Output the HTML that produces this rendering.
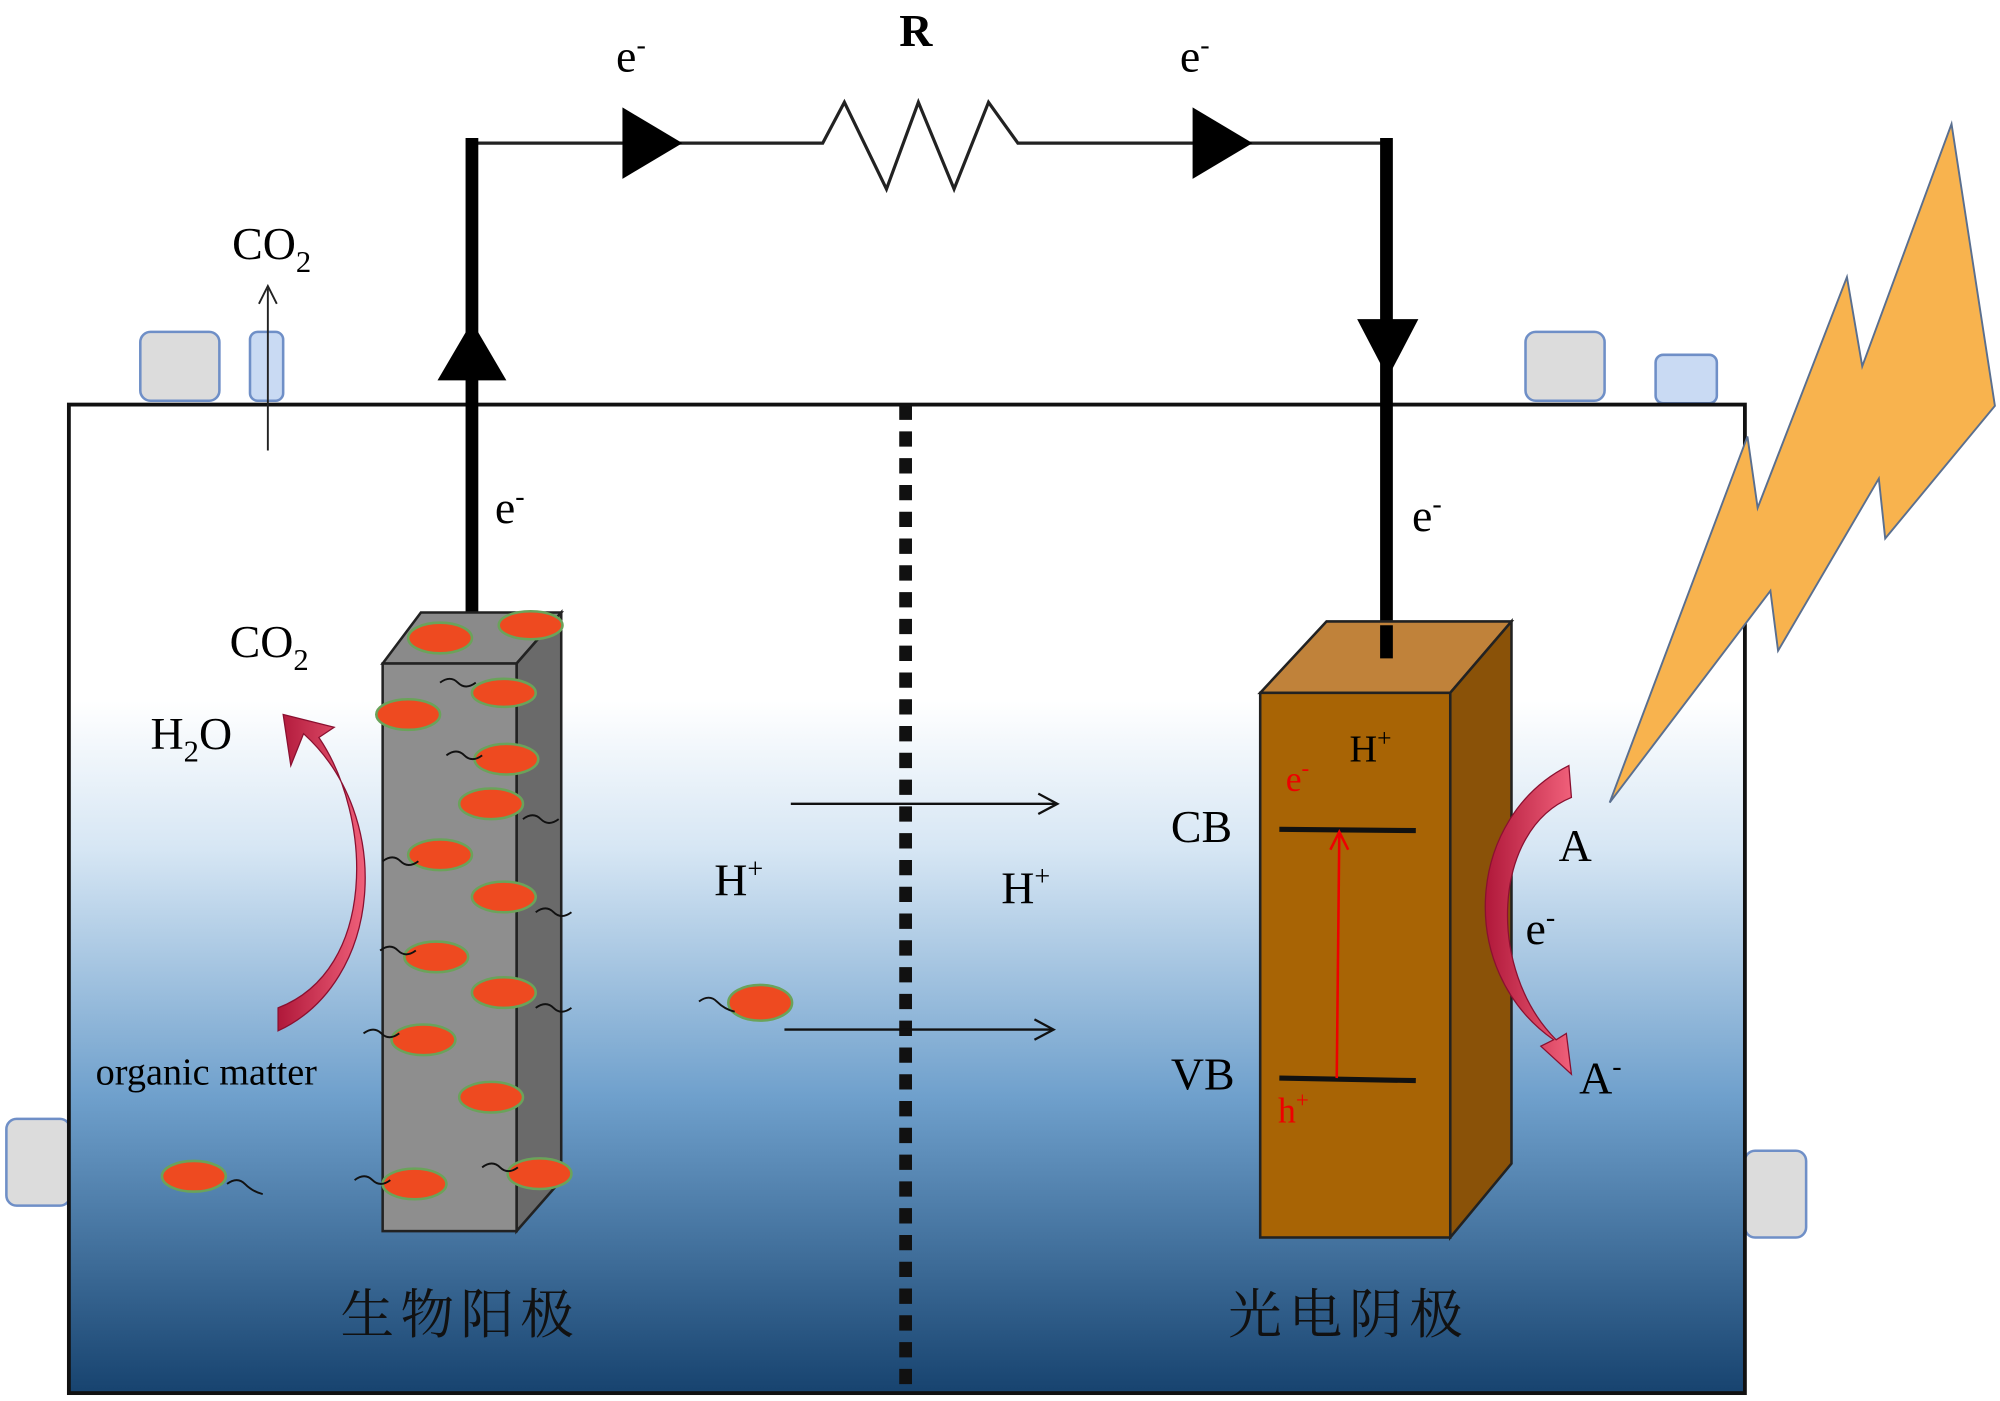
<!DOCTYPE html>
<html><head><meta charset="utf-8"><style>html,body{margin:0;padding:0;background:#fff}svg{display:block}</style></head>
<body>
<svg width="2000" height="1401" viewBox="0 0 1568 1098" xmlns="http://www.w3.org/2000/svg" font-family="Liberation Serif, Noto Serif CJK SC, serif">
<defs>
<linearGradient id="w" x1="0" y1="0" x2="0" y2="1">
<stop offset="0" stop-color="#fff"/><stop offset="0.3" stop-color="#fff"/>
<stop offset="0.45" stop-color="#d6e6f4"/><stop offset="0.7" stop-color="#6fa0cc"/>
<stop offset="1" stop-color="#17436f"/></linearGradient>
<linearGradient id="ar" x1="0" y1="0" x2="1" y2="0"><stop offset="0" stop-color="#b0183a"/><stop offset="1" stop-color="#f0607a"/></linearGradient>
</defs>
<rect width="1568" height="1098" fill="#fff"/>
<rect x="110" y="260" width="62" height="54" rx="8" fill="#dcdcdc" stroke="#6f8fc7" stroke-width="2"/>
<rect x="196" y="260" width="26" height="54" rx="6" fill="#c9daf3" stroke="#6f8fc7" stroke-width="2"/>
<rect x="1196" y="260" width="62" height="54" rx="8" fill="#dcdcdc" stroke="#6f8fc7" stroke-width="2"/>
<rect x="1298" y="278" width="48" height="38" rx="6" fill="#c9daf3" stroke="#6f8fc7" stroke-width="2"/>
<rect x="5" y="877" width="50" height="68" rx="8" fill="#dcdcdc" stroke="#6f8fc7" stroke-width="2"/>
<rect x="1368" y="902" width="48" height="68" rx="8" fill="#dcdcdc" stroke="#6f8fc7" stroke-width="2"/>
<rect x="54" y="317" width="1314" height="775" fill="url(#w)" stroke="#111" stroke-width="3"/>
<line x1="710" y1="317" x2="710" y2="1092" stroke="#111" stroke-width="10" stroke-dasharray="12,9"/>
<polygon points="1262,629 1370,342 1378,398 1448,217 1460,287 1530,97 1564,318 1478,422 1473,375 1394,510 1388,463" fill="#f8b34e" stroke="#5a6f8f" stroke-width="1.5"/>
<polyline points="370,112 645,112 662,80 695,148 720,80 748,148 775,80 798,112 1088,112" fill="none" stroke="#222" stroke-width="2.5"/>
<line x1="370" y1="108" x2="370" y2="492" stroke="#000" stroke-width="10"/>
<line x1="1087" y1="108" x2="1087" y2="516" stroke="#000" stroke-width="10"/>
<polygon points="488,84 535,112 488,140" fill="#000"/>
<polygon points="935,84 982,112 935,140" fill="#000"/>
<polygon points="343,298 370,252 397,298" fill="#000"/>
<polygon points="1064,250 1112,250 1088,296" fill="#000"/>
<line x1="210" y1="353" x2="210" y2="226" stroke="#222" stroke-width="1.5"/>
<polyline points="203,238 210,224 217,238" fill="none" stroke="#222" stroke-width="1.5"/>
<polygon points="300,520 330,480 440,480 405,520" fill="#8a8a8a" stroke="#222" stroke-width="2"/>
<polygon points="405,520 440,480 440,925 405,965" fill="#6a6a6a" stroke="#222" stroke-width="2"/>
<rect x="300" y="520" width="105" height="445" fill="#8e8e8e" stroke="#222" stroke-width="2"/>
<g fill="#ee4a20" stroke="#6aa35a" stroke-width="2">
<ellipse cx="345" cy="500" rx="25" ry="12"/><ellipse cx="416" cy="490" rx="25" ry="11"/>
<ellipse cx="395" cy="543" rx="25" ry="11"/><ellipse cx="320" cy="560" rx="25" ry="12"/>
<ellipse cx="397" cy="595" rx="25" ry="12"/><ellipse cx="385" cy="630" rx="25" ry="12"/>
<ellipse cx="345" cy="670" rx="25" ry="12"/><ellipse cx="395" cy="703" rx="25" ry="12"/>
<ellipse cx="342" cy="750" rx="25" ry="12"/><ellipse cx="395" cy="778" rx="25" ry="12"/>
<ellipse cx="332" cy="815" rx="25" ry="12"/><ellipse cx="385" cy="860" rx="25" ry="12"/>
<ellipse cx="325" cy="928" rx="25" ry="12"/><ellipse cx="423" cy="920" rx="25" ry="12"/>
<ellipse cx="152" cy="922" rx="25" ry="12"/><ellipse cx="596" cy="786" rx="25" ry="14"/>
</g>
<g fill="none" stroke="#111" stroke-width="1.5">
<path d="M345,535 q8,-6 14,0 t14,0"/><path d="M350,592 q8,-6 14,0 t14,0"/><path d="M410,642 q8,-6 14,0 t14,0"/>
<path d="M300,675 q8,-6 14,0 t14,0"/><path d="M420,715 q8,-6 14,0 t14,0"/><path d="M298,745 q8,-6 14,0 t14,0"/>
<path d="M420,790 q8,-6 14,0 t14,0"/><path d="M285,810 q8,-6 14,0 t14,0"/><path d="M278,925 q8,-6 14,0 t14,0"/>
<path d="M378,915 q8,-6 14,0 t14,0"/><path d="M178,928 q8,-6 14,0 t14,8"/><path d="M548,785 q8,-6 14,0 t14,8"/>
</g>
<polygon points="988,543 1040,487 1185,487 1137,543" fill="#c0823a" stroke="#222" stroke-width="2"/>
<polygon points="1137,543 1185,487 1185,912 1137,970" fill="#8a5208" stroke="#222" stroke-width="2"/>
<rect x="988" y="543" width="149" height="427" fill="#a86405" stroke="#222" stroke-width="2"/>
<line x1="1087" y1="490" x2="1087" y2="516" stroke="#000" stroke-width="10"/>
<line x1="1003" y1="650" x2="1110" y2="651" stroke="#111" stroke-width="4"/>
<line x1="1003" y1="845" x2="1110" y2="847" stroke="#111" stroke-width="4"/>
<line x1="1048" y1="845" x2="1050" y2="654" stroke="#e00" stroke-width="2"/>
<polyline points="1043,666 1050,652 1057,666" fill="none" stroke="#e00" stroke-width="2"/>
<path d="M218,808 C300,770 310,640 238,575 L228,600 L222,560 L262,570 L250,578 C292,640 296,760 218,790 Z" fill="url(#ar)" stroke="#8a1030" stroke-width="1"/>
<path d="M1230,600 C1150,640 1140,760 1218,815 L1208,820 L1232,842 L1228,810 L1220,815 C1165,760 1170,650 1232,625 Z" fill="url(#ar)" stroke="#8a1030" stroke-width="1"/>
<line x1="620" y1="630" x2="828" y2="630" stroke="#111" stroke-width="1.8"/><polyline points="814,622 829,630 814,638" fill="none" stroke="#111" stroke-width="1.8"/>
<line x1="615" y1="807" x2="825" y2="807" stroke="#111" stroke-width="1.8"/><polyline points="811,799 826,807 811,815" fill="none" stroke="#111" stroke-width="1.8"/>
<g font-size="36" fill="#000">
<text x="705" y="36" font-weight="bold">R</text>
<text x="483" y="56">e<tspan font-size="22" dy="-14">-</tspan></text>
<text x="925" y="56">e<tspan font-size="22" dy="-14">-</tspan></text>
<text x="182" y="203">CO<tspan font-size="24" dy="10">2</tspan></text>
<text x="388" y="410">e<tspan font-size="22" dy="-14">-</tspan></text>
<text x="1107" y="416">e<tspan font-size="22" dy="-14">-</tspan></text>
<text x="180" y="515">CO<tspan font-size="24" dy="10">2</tspan></text>
<text x="118" y="587">H<tspan font-size="24" dy="10">2</tspan><tspan dy="-10">O</tspan></text>
<text x="560" y="702">H<tspan font-size="22" dy="-14">+</tspan></text>
<text x="785" y="708">H<tspan font-size="22" dy="-14">+</tspan></text>
<text x="918" y="660">CB</text>
<text x="918" y="854">VB</text>
<text x="1222" y="675">A</text>
<text x="1196" y="740">e<tspan font-size="22" dy="-14">-</tspan></text>
<text x="1238" y="857">A<tspan font-size="22" dy="-14">-</tspan></text>
</g>
<text x="1058" y="597" font-size="30">H<tspan font-size="20" dy="-12">+</tspan></text>
<text x="1008" y="620" font-size="28" fill="#e00">e<tspan font-size="18" dy="-12">-</tspan></text>
<text x="1002" y="880" font-size="28" fill="#e00">h<tspan font-size="18" dy="-12">+</tspan></text>
<text x="75" y="850" font-size="30">organic matter</text>
<text x="267" y="1045" font-size="42" textLength="183" lengthAdjust="spacing" font-family="Noto Serif CJK SC, Noto Sans CJK SC, serif" fill="#111">生物阳极</text>
<text x="963" y="1045" font-size="42" textLength="184" lengthAdjust="spacing" font-family="Noto Serif CJK SC, Noto Sans CJK SC, serif" fill="#111">光电阴极</text>
</svg>
</body></html>
